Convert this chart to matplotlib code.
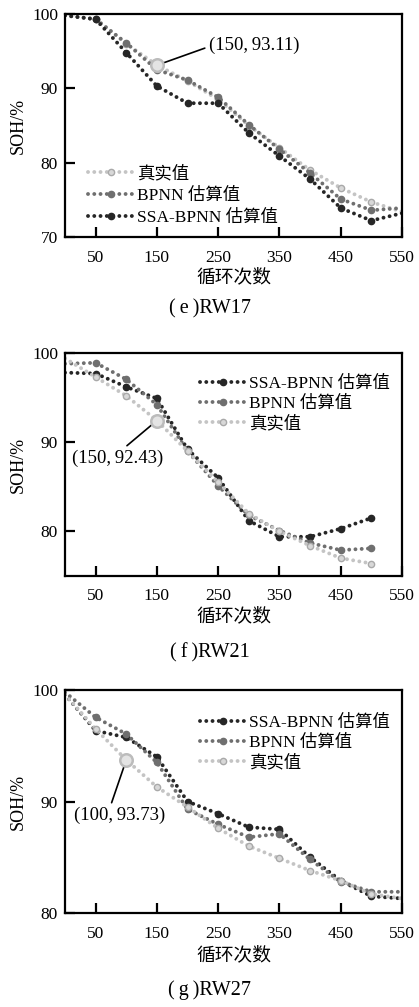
import matplotlib
matplotlib.use("Agg")
import matplotlib.pyplot as plt

plt.rcParams['font.family'] = ['Liberation Serif', 'Noto Sans CJK SC']
plt.rcParams['font.size'] = 12.5
plt.rcParams['axes.unicode_minus'] = False

# ---------------------------------------------------------------------------
# data
# ---------------------------------------------------------------------------
x_e = [0, 50, 100, 150, 200, 250, 300, 350, 400, 450, 500, 550]
e_true = [99.8, 99.3, 96.0, 93.11, 91.0, 88.5, 85.0, 82.0, 79.0, 76.6, 74.7, 73.4]
e_bp = [99.8, 99.3, 96.1, 92.5, 91.1, 88.8, 85.1, 81.8, 78.6, 75.1, 73.6, 73.9]
e_ssa = [99.8, 99.3, 94.8, 90.3, 88.0, 88.0, 84.0, 80.9, 77.8, 73.9, 72.2, 73.2]

x_f = [0, 50, 100, 150, 200, 250, 300, 350, 400, 450, 500]
f_true = [99.4, 97.3, 95.2, 92.43, 89.0, 85.5, 82.0, 80.0, 78.4, 77.0, 76.4]
f_bp = [98.8, 98.9, 97.05, 94.2, 89.0, 85.1, 81.8, 80.1, 78.7, 77.9, 78.1]
f_ssa = [97.8, 97.7, 96.2, 94.9, 89.2, 86.0, 81.2, 79.4, 79.4, 80.3, 81.5]

x_g = [0, 50, 100, 150, 200, 250, 300, 350, 400, 450, 500, 550]
g_true = [99.6, 96.5, 93.73, 91.3, 89.5, 87.6, 86.0, 84.9, 83.8, 82.9, 81.7, 81.3]
g_bp = [99.8, 97.55, 96.05, 93.5, 89.3, 87.95, 86.8, 87.1, 84.8, 82.8, 81.9, 81.9]
g_ssa = [99.6, 96.35, 95.75, 94.0, 90.0, 88.9, 87.7, 87.5, 85.0, 82.9, 81.5, 81.3]

xticks = [50, 150, 250, 350, 450, 550]
lab_true = '真实值'
lab_bp = 'BPNN 估算值'
lab_ssa = 'SSA-BPNN 估算值'

# ---------------------------------------------------------------------------
# styles
# ---------------------------------------------------------------------------
c_true, c_bp, c_ssa = '#c4c4c4', '#6f6f6f', '#262626'
dot = (0, (0.01, 1.6))

def draw(ax, x, y, color, label, mfc=None, mec=None):
    ax.plot(x, y, linestyle=dot, dash_capstyle='round', lw=2.8, color=color,
            marker='o', markersize=4.5, markevery=slice(1, 11),
            markerfacecolor=mfc or color, markeredgecolor=mec or color,
            markeredgewidth=1.0, label=label)

def style_axes(ax, ylim, yticks, xlab_y):
    ax.set_xlim(0, 550)
    ax.set_ylim(*ylim)
    ax.set_xticks(xticks)
    ax.set_yticks(yticks)
    ax.tick_params(direction='in', length=7, width=1.6, labelsize=12.5)
    ax.tick_params(axis='x', pad=9)
    ax.tick_params(axis='y', pad=5)
    for s in ax.spines.values():
        s.set_linewidth(1.6)
    ax.set_xlabel('循环次数', fontsize=13.5)
    ax.xaxis.set_label_coords(0.5, xlab_y)
    ax.xaxis.label.set_va('top')
    ax.set_ylabel('SOH/%', fontsize=13)
    ax.yaxis.set_label_coords(-0.113, 0.5)

def annotate(ax, xp, yp, text, offset, relpos):
    ax.plot([xp], [yp], 'o', markersize=9, markerfacecolor='#e4e4e4',
            markeredgecolor='#bcbcbc', markeredgewidth=1.8, zorder=5)
    ax.annotate(text, xy=(xp, yp), xytext=offset, textcoords='offset points',
                ha='center', va='center', fontsize=13.5,
                arrowprops=dict(arrowstyle='-', color='black', lw=1.2,
                                shrinkA=1, shrinkB=5, relpos=relpos))

def legend(ax, anchor):
    ax.legend(loc='upper left', bbox_to_anchor=anchor, frameon=False,
              borderpad=0, borderaxespad=0, handlelength=2.7, handletextpad=0.15,
              labelspacing=0.2, fontsize=12.5)

W, H = 419, 1007
fig = plt.figure(figsize=(W / 100, H / 100), dpi=100)

def axes_px(left, top, right, bottom):
    return fig.add_axes([left / W, 1 - bottom / H, (right - left) / W, (bottom - top) / H])

# ---------------- (e) RW17 ----------------
ax = axes_px(65, 14, 402, 237)
draw(ax, x_e, e_true, c_true, lab_true, mfc='#d8d8d8', mec='#a9a9a9')
draw(ax, x_e, e_bp, c_bp, lab_bp)
draw(ax, x_e, e_ssa, c_ssa, lab_ssa)
style_axes(ax, (70, 100), [70, 80, 90, 100], -0.14)
annotate(ax, x_e[3], e_true[3], '(150,\u200993.11)', (70, 14.5), (0.05, 0.5))
ax.legend(loc='upper left', bbox_to_anchor=(0.068, 0.322), frameon=False,
          borderpad=0, borderaxespad=0, handlelength=2.7, handletextpad=0.15,
          labelspacing=0.33, fontsize=12.5)
fig.text(0.5, 1 - 309 / H, '(\u2009e\u2009)RW17', ha='center', va='center', fontsize=14.5)

# ---------------- (f) RW21 ----------------
ax = axes_px(65, 353, 402, 576)
draw(ax, x_f, f_ssa, c_ssa, lab_ssa)
draw(ax, x_f, f_bp, c_bp, lab_bp)
draw(ax, x_f, f_true, c_true, lab_true, mfc='#d8d8d8', mec='#a9a9a9')
style_axes(ax, (75, 100), [80, 90, 100], -0.14)
annotate(ax, x_f[3], f_true[3], '(150,\u200992.43)', (-28, -27), (0.55, 1.0))
legend(ax, (0.40, 0.897))
fig.text(0.5, 1 - 653 / H, '(\u2009f\u2009)RW21', ha='center', va='center', fontsize=14.5)

# ---------------- (g) RW27 ----------------
ax = axes_px(65, 690, 402, 913)
draw(ax, x_g, g_ssa, c_ssa, lab_ssa)
draw(ax, x_g, g_bp, c_bp, lab_bp)
draw(ax, x_g, g_true, c_true, lab_true, mfc='#d8d8d8', mec='#a9a9a9')
style_axes(ax, (80, 100), [80, 90, 100], -0.15)
annotate(ax, x_g[2], g_true[2], '(100,\u200993.73)', (-5, -40), (0.4, 1.0))
legend(ax, (0.40, 0.887))
fig.text(0.5, 1 - 990 / H, '(\u2009g\u2009)RW27', ha='center', va='center', fontsize=14.5)

fig.savefig('out.png', dpi=100)
